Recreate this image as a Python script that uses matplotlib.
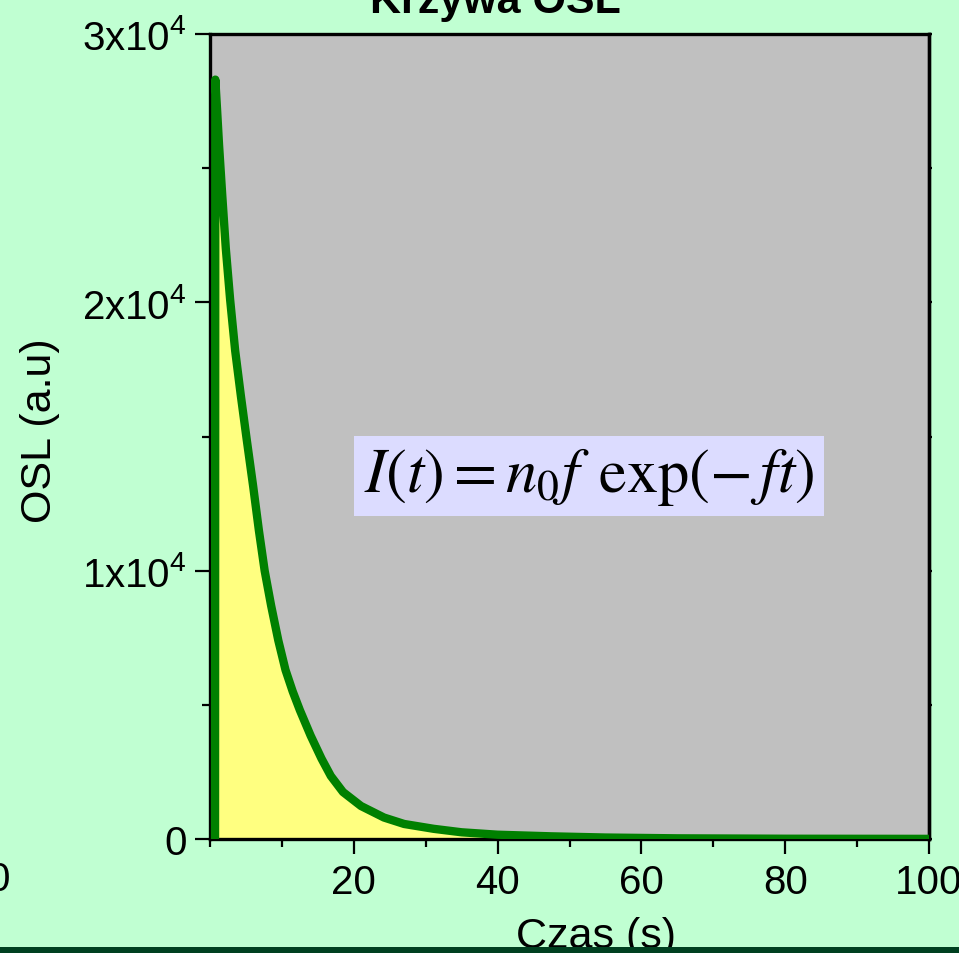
import matplotlib
matplotlib.use("Agg")
import matplotlib.pyplot as plt
from matplotlib.patches import Rectangle
from matplotlib.ticker import FuncFormatter, MultipleLocator

plt.rcParams['font.family'] = ['Liberation Sans', 'DejaVu Sans']
plt.rcParams['mathtext.fontset'] = 'stix'

# values (time in s, OSL in a.u.)
czas = [0.7, 0.74, 1.0, 1.25, 1.7, 2.2, 2.8, 3.5, 4.3, 5.1, 6.0, 6.8, 7.6,
        8.5, 9.5, 10.5, 11.5, 12.5, 14.0, 15.5, 16.8, 18.5, 21.0, 24.2,
        27.0, 31.1, 35.0, 40.0, 47.4, 55.0, 65.0, 80.0, 100.0]
osl = [0, 28300, 27100, 25900, 24000, 22000, 20100, 18200, 16500, 14900,
       13150, 11500, 10000, 8700, 7400, 6300, 5500, 4800, 3850, 3000, 2350,
       1750, 1230, 800, 560, 380, 250, 160, 100, 55, 25, 10, 5]

x_ticks = [20, 40, 60, 80, 100]
y_ticks = [0, 10000, 20000, 30000]

bg = '#C0FFD2'
fig = plt.figure(figsize=(9.64, 9.54), dpi=100, facecolor=bg)
ax = fig.add_axes([210 / 964, 1 - 840 / 954, 719 / 964, 805 / 954])
ax.set_facecolor('#C0C0C0')

ax.fill_between(czas, osl, 0, color='#FFFF80', lw=0, zorder=2)
ax.plot(czas, osl, color='#008000', lw=6, solid_joinstyle='round',
        solid_capstyle='round', zorder=3)

ax.set_xlim(0, 100)
ax.set_ylim(0, 30000)
ax.set_xticks(x_ticks)
ax.set_yticks(y_ticks)
ax.xaxis.set_minor_locator(MultipleLocator(10))
ax.yaxis.set_minor_locator(MultipleLocator(5000))


def y_fmt(v, pos):
    if v == 0:
        return '0'
    return r'$\mathregular{%dx10^{4}}$' % int(round(v / 10000))


ax.yaxis.set_major_formatter(FuncFormatter(y_fmt))
ax.tick_params(which='major', direction='out', length=11, width=1.6,
               labelsize=29, pad=6)
ax.tick_params(which='minor', direction='out', length=5.5, width=1.6)
for sp in ax.spines.values():
    sp.set_linewidth(2.4)

# tiny stubs on the right spine
ax2 = ax.secondary_yaxis('right')
ax2.set_yticks(y_ticks)
ax2.yaxis.set_minor_locator(MultipleLocator(5000))
ax2.tick_params(which='both', direction='out', length=2.5, width=1.6,
                labelright=False)
ax2.spines['right'].set_linewidth(2.4)

ax.text(0.527, 0.451,
        r'$I\left(t\right)=n_{\mathit{0}}f\;\,\mathrm{exp}\left(-\,ft\right)$',
        transform=ax.transAxes, ha='center', va='center', fontsize=45,
        bbox=dict(boxstyle='square,pad=0.15', facecolor='#DCDCFF',
                  edgecolor='none'), zorder=5)

fig.text(495 / 964, 1 - 13 / 954, 'Krzywa OSL', ha='center', va='baseline',
         fontsize=31, fontweight='bold')
fig.text(596 / 964, 1 - 948 / 954, 'Czas (s)', ha='center', va='baseline',
         fontsize=31)
fig.text(40 / 964, 1 - 431 / 954, 'OSL (a.u)', ha='center', va='center',
         rotation=90, fontsize=31)
fig.text(10 / 964, 1 - 880 / 954, '0', ha='right', va='center', fontsize=29)

fig.patches.append(Rectangle((0, 0), 1, 6 / 954, transform=fig.transFigure,
                             facecolor='#004020', edgecolor='none', zorder=10))
fig.patches.append(Rectangle((959 / 964, 0), 5 / 964, 1, transform=fig.transFigure,
                             facecolor='white', edgecolor='none', zorder=10))

fig.savefig('out.png', dpi=100, facecolor=bg)
